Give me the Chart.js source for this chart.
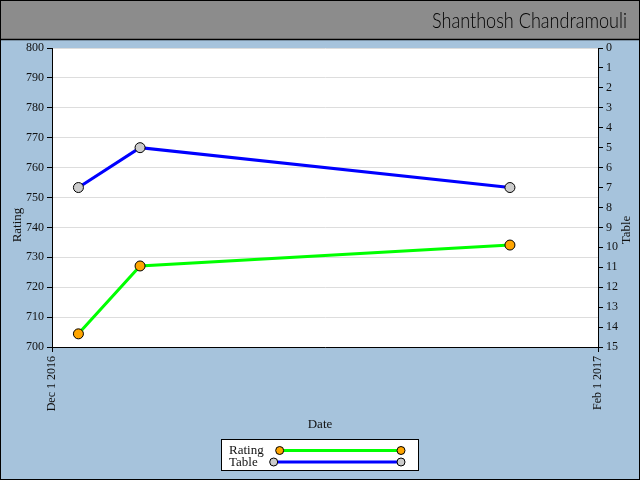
<!DOCTYPE html>
<html>
<head>
<meta charset="utf-8">
<script src="https://cdn.jsdelivr.net/npm/chart.js@4/dist/chart.umd.min.js"></script>
<style>
  html, body { margin: 0; padding: 0; background: #a6c3dc; }
  #wrap { width: 640px; height: 480px; }
</style>
</head>
<body>
<div id="wrap"><canvas id="myChart" width="640" height="480"></canvas></div>
<script>
const titleText = "Shanthosh Chandramouli";
const dates = ["2016-12-04", "2016-12-11", "2017-01-22"];
const ratingValues = [704.4, 727.1, 734.1];
const tableValues = [7, 5, 7];
const xTickDates = ["2016-12-01", "2017-02-01"];
const xTickLabels = ["Dec 1 2016", "Feb 1 2017"];

const serif = "'Liberation Serif', 'Times New Roman', serif";
const ink = "#111";

const frame = {
  id: "frame",
  beforeDraw(chart) {
    const ctx = chart.ctx;
    ctx.save();
    ctx.fillStyle = "#a6c3dc";
    ctx.fillRect(0, 0, 640, 480);
    ctx.fillStyle = "#8c8c8c";
    ctx.fillRect(0, 0, 640, 39);
    ctx.fillStyle = "#ffffff";
    const a = chart.chartArea;
    ctx.fillRect(a.left, a.top, a.right - a.left, a.bottom - a.top);
    ctx.strokeStyle = "#000";
    ctx.lineWidth = 1.5;
    ctx.beginPath();
    ctx.moveTo(0, 39.5);
    ctx.lineTo(640, 39.5);
    ctx.stroke();
    ctx.lineWidth = 1;
    ctx.strokeRect(0.5, 0.5, 639, 479);
    // header title, squeezed to the width of the handwritten original
    ctx.fillStyle = "#000";
    ctx.font = "300 22px Lato, 'Open Sans', sans-serif";
    ctx.textAlign = "right";
    ctx.textBaseline = "middle";
    const w = ctx.measureText(titleText).width;
    ctx.translate(627, 21);
    ctx.scale(Math.min(1, 195 / w), 1);
    ctx.fillText(titleText, 0, 0);
    ctx.restore();
  },
  afterDraw(chart) {
    const ctx = chart.ctx;
    ctx.save();
    ctx.fillStyle = ink;
    ctx.font = "13px " + serif;
    ctx.textAlign = "center";
    ctx.textBaseline = "middle";
    // axis titles
    ctx.fillText("Date", 320, 425);
    ctx.save();
    ctx.translate(18, 225);
    ctx.rotate(-Math.PI / 2);
    ctx.fillText("Rating", 0, 0);
    ctx.restore();
    ctx.save();
    ctx.translate(627, 230);
    ctx.rotate(-Math.PI / 2);
    ctx.fillText("Table", 0, 0);
    ctx.restore();

    // legend
    ctx.fillStyle = "#fff";
    ctx.fillRect(221, 439, 197, 31);
    ctx.strokeStyle = "#000";
    ctx.lineWidth = 1;
    ctx.strokeRect(221.5, 439.5, 197, 31);
    ctx.textAlign = "left";
    chart.data.datasets.forEach((ds, i) => {
      const y = 450.5 + i * 11.5;
      ctx.fillStyle = ink;
      ctx.fillText(ds.label, 229, y + 0.5);
      const x0 = 229 + ctx.measureText(ds.label).width + 16;
      const x1 = 401;
      ctx.strokeStyle = ds.borderColor;
      ctx.lineWidth = 3;
      ctx.beginPath();
      ctx.moveTo(x0, y);
      ctx.lineTo(x1, y);
      ctx.stroke();
      [x0, x1].forEach(x => {
        ctx.beginPath();
        ctx.arc(x, y, 4, 0, Math.PI * 2);
        ctx.fillStyle = ds.pointBackgroundColor;
        ctx.fill();
        ctx.strokeStyle = "#000";
        ctx.lineWidth = 1;
        ctx.stroke();
      });
    });
    ctx.restore();
  }
};

const toXY = (vals) => dates.map((d, i) => ({ x: Date.parse(d), y: vals[i] }));

new Chart("myChart", {
  type: "line",
  data: {
    datasets: [
      {
        label: "Rating",
        data: toXY(ratingValues),
        yAxisID: "y",
        borderColor: "#00ff00",
        borderWidth: 3,
        pointBackgroundColor: "#ffa500",
        pointBorderColor: "#000",
        pointBorderWidth: 1,
        pointRadius: 5,
        tension: 0,
        fill: false,
      },
      {
        label: "Table",
        data: toXY(tableValues),
        yAxisID: "y2",
        borderColor: "#0000ff",
        borderWidth: 3,
        pointBackgroundColor: "#cccccc",
        pointBorderColor: "#000",
        pointBorderWidth: 1,
        pointRadius: 5,
        tension: 0,
        fill: false,
      },
    ],
  },
  plugins: [frame],
  options: {
    responsive: false,
    animation: false,
    layout: { padding: { top: 48, left: 0, right: 0, bottom: 0 } },
    plugins: {
      legend: { display: false },
      title: { display: false },
      tooltip: { enabled: false },
    },
    scales: {
      x: {
        type: "linear",
        min: Date.parse(xTickDates[0]),
        max: Date.parse(xTickDates[xTickDates.length - 1]),
        afterBuildTicks: (scale) => {
          scale.ticks = xTickDates.map(d => ({ value: Date.parse(d) }));
        },
        afterFit: (scale) => { scale.height = 133; },
        ticks: {
          callback: (v, i) => xTickLabels[i],
          minRotation: 90,
          maxRotation: 90,
          padding: 4,
          color: ink,
          font: { family: serif, size: 12 },
        },
        grid: { drawOnChartArea: false, tickLength: 5, tickColor: "#000" },
        border: { color: "#000", width: 1 },
      },
      y: {
        position: "left",
        min: 700,
        max: 800,
        afterFit: (scale) => { scale.width = 52; },
        ticks: {
          stepSize: 10,
          padding: 3,
          color: ink,
          font: { family: serif, size: 12 },
        },
        grid: { color: "#dddddd", tickLength: 5, tickColor: "#000" },
        border: { color: "#000", width: 1 },
      },
      y2: {
        position: "right",
        min: 0,
        max: 15,
        reverse: true,
        afterFit: (scale) => { scale.width = 42; },
        ticks: {
          stepSize: 1,
          padding: 3,
          color: ink,
          font: { family: serif, size: 12 },
        },
        grid: { drawOnChartArea: false, tickLength: 5, tickColor: "#000" },
        border: { color: "#000", width: 1 },
      },
    },
  },
});
</script>
</body>
</html>
